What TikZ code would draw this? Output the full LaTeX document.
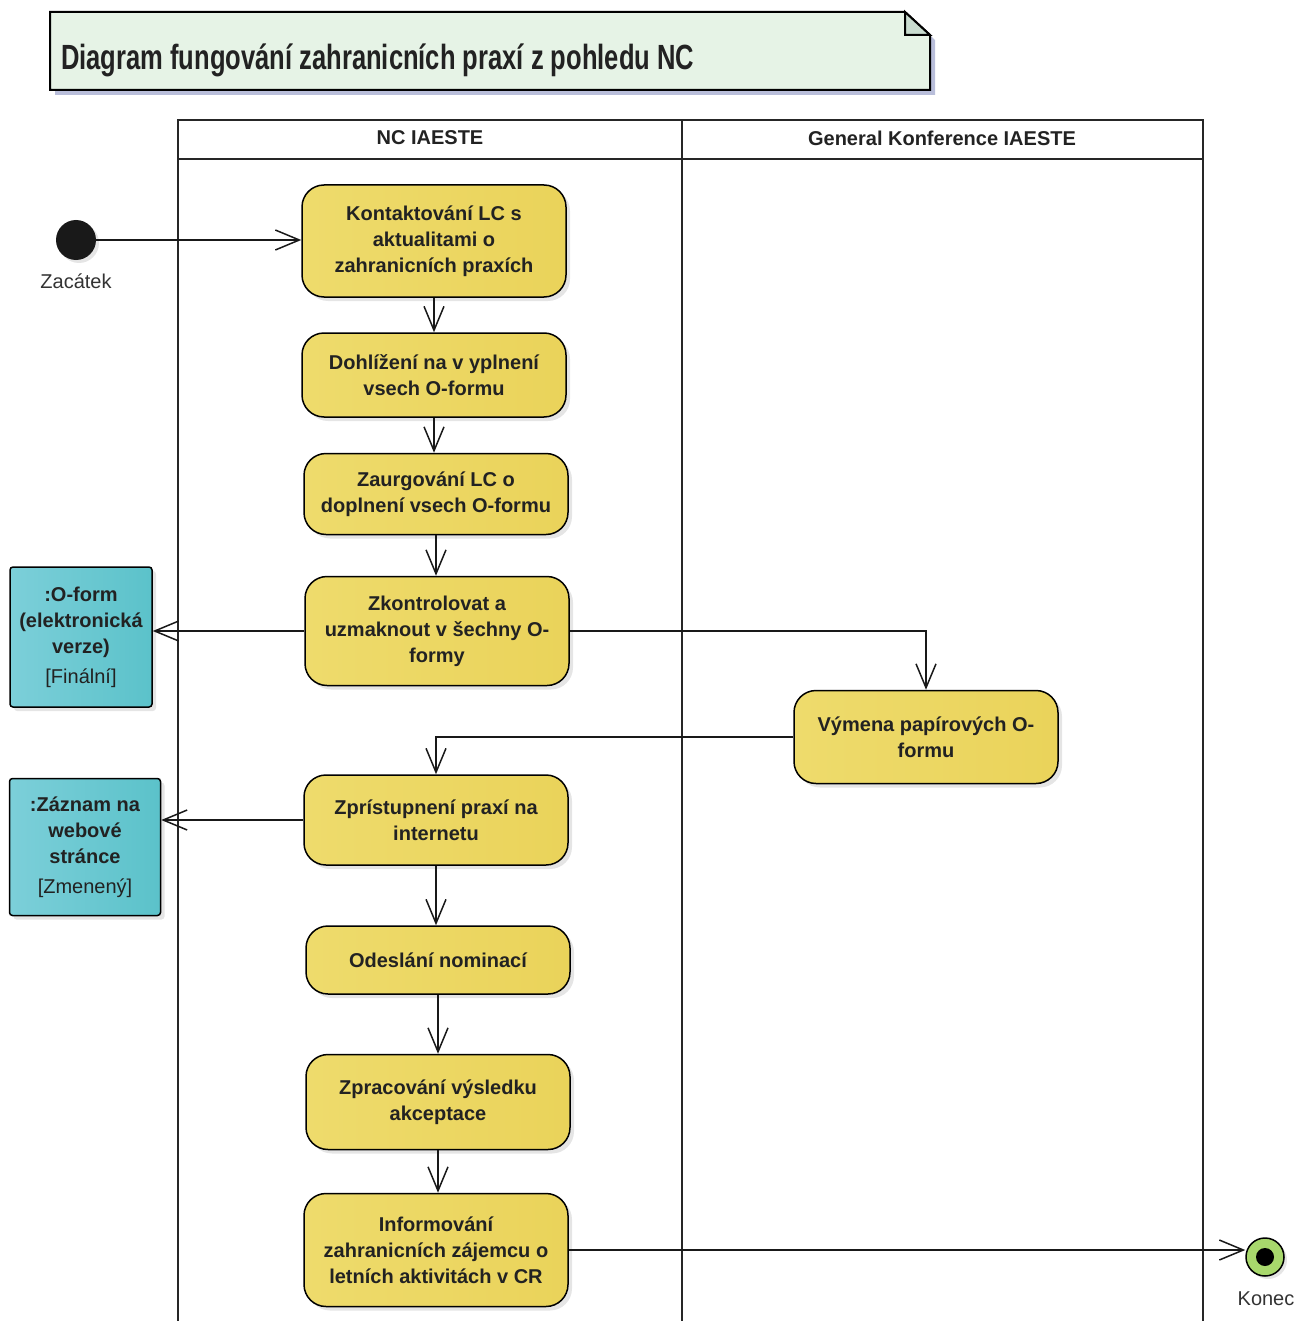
\documentclass[tikz,border=0pt]{standalone}
\usepackage{fontspec}
\setmainfont{Liberation Sans}
\setsansfont{Liberation Sans}
\newfontfamily\titlefont{Liberation Sans}[FakeStretch=0.73]
\usetikzlibrary{arrows.meta,shadows}
\definecolor{actleft}{HTML}{EEDB6C}
\definecolor{actmid}{HTML}{F5EDB2}
\definecolor{actright}{HTML}{EAD35A}
\definecolor{objleft}{HTML}{7CCFD9}
\definecolor{objmid}{HTML}{A9E0E8}
\definecolor{objright}{HTML}{5BC2CA}
\definecolor{notefill}{HTML}{E6F3E6}
\definecolor{notefold}{HTML}{C9DCCF}
\definecolor{noteshadow}{HTML}{B9BEDA}
\definecolor{endfill}{HTML}{A8D86C}
\definecolor{textcol}{HTML}{222222}
\tikzset{
    actionnode/.style = {
        align=center,
        inner sep=0pt,
        text=textcol,
        font=\fontsize{10}{13}\selectfont\bfseries,
        rectangle,
        rounded corners=11pt,
        draw=black,
        line width=0.75pt,
        left color=actleft,
        middle color=actmid,
        right color=actright,
        drop shadow={shadow xshift=2pt,shadow yshift=-2pt,fill=black!20},
        minimum width=132pt
    },
    objectnode/.style = {
        actionnode,
        rounded corners=1.5pt,
        left color=objleft,
        middle color=objmid,
        right color=objright
    },
    startnode/.style = {
        circle,
        fill=black!90,
        minimum size=20pt,
        inner sep=0pt,
        drop shadow={shadow xshift=1.5pt,shadow yshift=-1.5pt,fill=black!20}
    },
    endnode/.style = {
        circle,
        draw=black,
        line width=0.75pt,
        fill=endfill,
        minimum size=19pt,
        inner sep=0pt,
        drop shadow={shadow xshift=1.5pt,shadow yshift=-1.5pt,fill=black!20}
    },
    lanelabel/.style = {
        font=\fontsize{10}{12}\selectfont\bfseries,
        text=textcol
    },
    pinlabel/.style = {
        font=\fontsize{10}{12}\selectfont,
        text=black!80
    },
    flow/.style = {
        draw=black!90,
        line width=0.75pt,
        -{Straight Barb[length=12pt,width=10pt,line width=0.75pt]}
    }
}

\begin{document}
\begin{tikzpicture}[x=0.5pt,y=-0.5pt]
    \useasboundingbox (0,0) rectangle (1298,1321);
    % title note
    \fill[noteshadow] (55,17) -- (910,17) -- (935,40) -- (935,95) -- (55,95) -- cycle;
    \draw[line width=1pt,fill=notefill] (50,12) -- (905,12) -- (930,35) -- (930,90) -- (50,90) -- cycle;
    \draw[line width=1pt,fill=notefold] (905,12) -- (905,35) -- (930,35) -- cycle;
    \node [anchor=west,text=textcol,font=\titlefont\fontsize{17.5}{20}\selectfont\bfseries] (title) at (54,60)
        {Diagram fungování zahranicních praxí z pohledu NC};
    % swimlanes
    \draw[line width=1pt,black!85] (178,1321) -- (178,120) -- (1203,120) -- (1203,1321);
    \draw[line width=1pt,black!85] (178,159) -- (1203,159);
    \draw[line width=1pt,black!85] (682,120) -- (682,1321);
    \node [lanelabel] (nclane) at (430,138) {NC IAESTE};
    \node [lanelabel] (gklane) at (942,138) {General Konference IAESTE};
    % nodes
    \node [startnode] (start) at (76,240) {};
    \node [pinlabel] (zacatek) at (76,281) {Zacátek};
    \node [actionnode,minimum height=56pt] (a1) at (434,241)
        {Kontaktování LC s\\aktualitami o\\zahranicních praxích};
    \node [actionnode,minimum height=42pt] (a2) at (434,375)
        {Dohlížení na v yplnení\\vsech O-formu};
    \node [actionnode,minimum height=40.5pt] (a3) at (436,494)
        {Zaurgování LC o\\doplnení vsech O-formu};
    \node [actionnode,minimum height=54.5pt] (a4) at (437,631)
        {Zkontrolovat a\\uzmaknout v šechny O-\\formy};
    \node [actionnode,minimum height=46.5pt] (a5) at (926,737)
        {Výmena papírových O-\\formu};
    \node [actionnode,minimum height=45pt] (a6) at (436,820)
        {Zprístupnení praxí na\\internetu};
    \node [actionnode,minimum height=34pt] (a7) at (438,960)
        {Odeslání nominací};
    \node [actionnode,minimum height=47.5pt] (a8) at (438,1102)
        {Zpracování výsledku\\akceptace};
    \node [actionnode,minimum height=56.5pt] (a9) at (436,1250)
        {Informování\\zahranicních zájemcu o\\letních aktivitách v CR};
    \node [objectnode,minimum width=71pt,minimum height=70pt] (o1) at (81,637)
        {:O-form\\(elektronická\\verze)\\[2pt]{\mdseries [Finální]}};
    \node [objectnode,minimum width=75.5pt,minimum height=68.5pt] (o2) at (85,847)
        {:Záznam na\\webové\\stránce\\[2pt]{\mdseries [Zmenený]}};
    \node [endnode] (konec) at (1265,1257) {};
    \node [circle,fill=black,minimum size=9pt,inner sep=0pt] (konecdot) at (konec) {};
    \node [pinlabel] (koneclabel) at (1266,1299) {Konec};
    % flows
    \draw[flow] (start) -- (start -| a1.west);
    \draw[flow] (a1) -- (a2);
    \draw[flow] (a2.south) -- (a2.south |- a3.north);
    \draw[flow] (a3.south) -- (a3.south |- a4.north);
    \draw[flow] (a4.west) -- (a4.west -| o1.east);
    \draw[flow] (a4.east) -| (a5.north);
    \draw[flow] (a5.west) -| (a6.north);
    \draw[flow] (a6.west) -- (a6.west -| o2.east);
    \draw[flow] (a6.south) -- (a6.south |- a7.north);
    \draw[flow] (a7.south) -- (a7.south |- a8.north);
    \draw[flow] (a8.south) -- (a8.south |- a9.north);
    \draw[flow] (a9.east) -- (a9.east -| konec.west);
\end{tikzpicture}
\end{document}
